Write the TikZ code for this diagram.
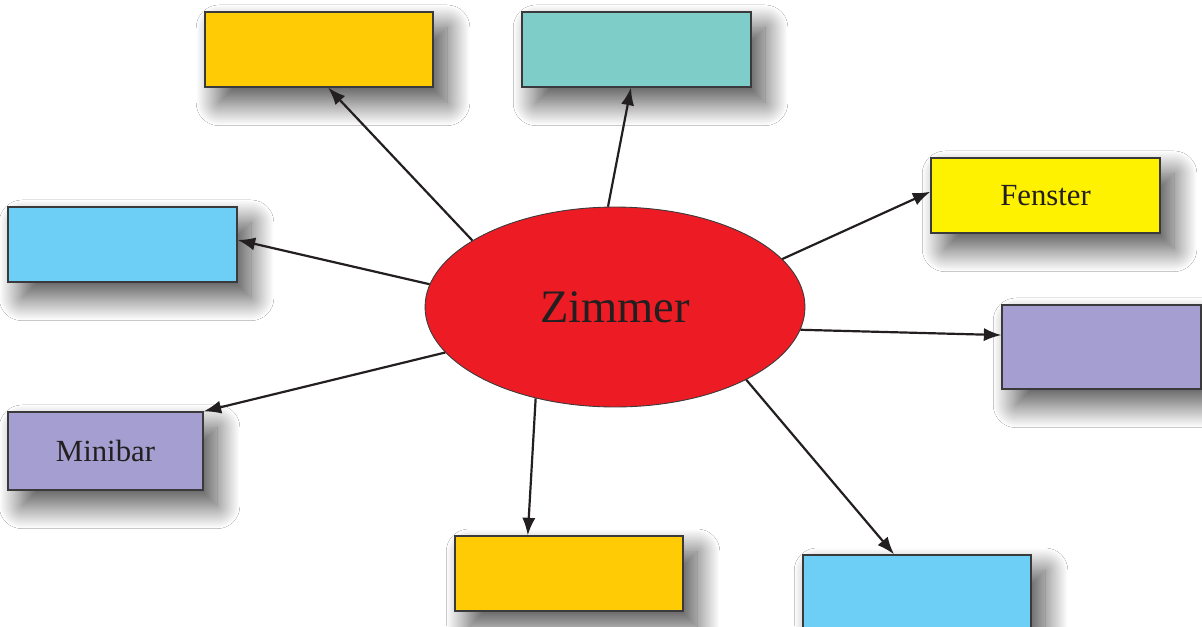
\documentclass[tikz,border=0pt]{standalone}
\usepackage{fontspec}
\setmainfont{Liberation Serif}
\usetikzlibrary{shadows.blur,arrows.meta,calc,shapes.geometric}
\definecolor{cOrange}{HTML}{FFCB05}
\definecolor{cTeal}{HTML}{7ECDC9}
\definecolor{cYellow}{HTML}{FFF200}
\definecolor{cBlue}{HTML}{6DCFF6}
\definecolor{cPurple}{HTML}{A59FD1}
\definecolor{cRed}{HTML}{ED1C24}
\definecolor{cEdge}{HTML}{3A3A3C}
\definecolor{cArrow}{HTML}{231F20}
\tikzset{
  shad/.style={blur shadow={shadow xshift=8pt, shadow yshift=-9pt, shadow blur radius=13pt, shadow blur steps=40, shadow opacity=70}},
  box/.style={draw=cEdge, line width=0.7pt, rectangle, inner sep=0pt, shad, font=\fontsize{17.5pt}{20pt}\selectfont, text=cArrow},
  conn/.style={draw=cArrow, line width=1.25pt, -{Latex[length=10pt,width=7.5pt]}}
}
\begin{document}
\begin{tikzpicture}[x=0.02cm,y=-0.02cm]
\clip (0,0) rectangle (1202,626);
\fill[white] (0,0) rectangle (1202,626);
\node[box, fill=cOrange, minimum width=4.56cm, minimum height=1.5cm] (b1) at (319,49.5) {};
\node[box, fill=cTeal, minimum width=4.58cm, minimum height=1.5cm] (b2) at (636.5,49.5) {};
\node[box, fill=cYellow, minimum width=4.58cm, minimum height=1.5cm] (b3) at (1045.5,195.5) {Fenster};
\node[box, fill=cBlue, minimum width=4.58cm, minimum height=1.5cm] (b4) at (122.5,244.5) {};
\node[box, fill=cPurple, minimum width=3.98cm, minimum height=1.68cm] (b5) at (1101.5,347) {};
\node[box, fill=cPurple, minimum width=3.9cm, minimum height=1.56cm] (b6) at (105.5,451) {Minibar};
\node[box, fill=cOrange, minimum width=4.56cm, minimum height=1.5cm] (b7) at (569,573.5) {};
\node[box, fill=cBlue, minimum width=4.56cm, minimum height=1.5cm] (b8) at (917,592.5) {};
\node[ellipse, draw=cEdge, line width=0.5pt, fill=cRed, minimum width=7.6cm, minimum height=4cm, inner sep=0pt, text=cArrow, font=\fontsize{26.5pt}{30pt}\selectfont] (z) at (615,307) {\raisebox{-2pt}{Zimmer}};
\draw[conn] (z.155.5) -- ($(b1.south west)!0.54!(b1.south east)$);
\draw[conn] (z.94.5) -- ($(b2.south west)!0.476!(b2.south east)$);
\draw[conn] (z.16.6) -- ($(b3.north west)!0.45!(b3.south west)$);
\draw[conn] (z.173.9) -- ($(b4.north east)!0.44!(b4.south east)$);
\draw[conn] (z.-7.7) -- ($(b5.north west)!0.36!(b5.south west)$);
\draw[conn] (z.195.3) -- (b6.north east);
\draw[conn] (z.229.3) -- ($(b7.north west)!0.32!(b7.north east)$);
\draw[conn] (z.-29) -- ($(b8.north west)!0.40!(b8.north east)$);
\end{tikzpicture}
\end{document}
